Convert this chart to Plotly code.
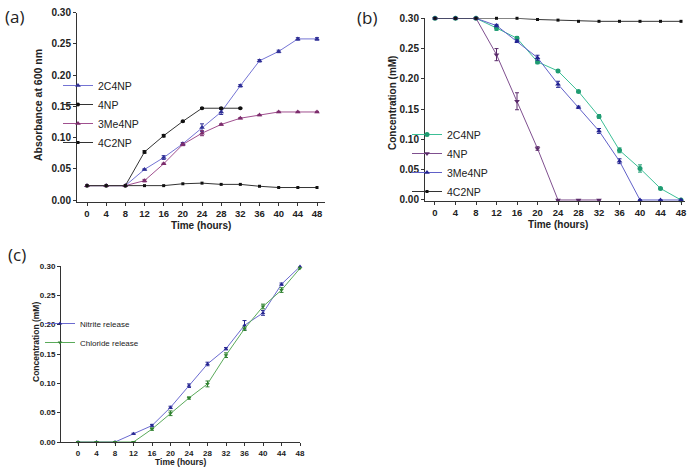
import plotly.graph_objects as go

W, H = 698, 470

# ---------------- data ----------------
hours = [0, 4, 8, 12, 16, 20, 24, 28, 32, 36, 40, 44, 48]
hours_4np_a = [0, 4, 8, 12, 16, 20, 24, 28, 32]
hours_4np_b = [0, 4, 8, 12, 16, 20, 24, 28, 32]
x_ticks = [0, 4, 8, 12, 16, 20, 24, 28, 32, 36, 40, 44, 48]
y_ticks = [0.00, 0.05, 0.10, 0.15, 0.20, 0.25, 0.30]

# Panel (a): absorbance at 600 nm
a_2c4np = [0.023, 0.023, 0.023, 0.049, 0.068, 0.090, 0.116, 0.141, 0.183, 0.223, 0.238, 0.258, 0.258]
a_2c4np_err = [0, 0, 0, 0.001, 0.003, 0.002, 0.006, 0.004, 0.002, 0.002, 0.002, 0.002, 0.002]
a_4np = [0.023, 0.023, 0.023, 0.077, 0.103, 0.126, 0.147, 0.147, 0.147]
a_4np_err = [0, 0, 0, 0.002, 0.002, 0.001, 0.001, 0.001, 0.001]
a_3me4np = [0.023, 0.023, 0.023, 0.031, 0.058, 0.089, 0.107, 0.121, 0.131, 0.136, 0.141, 0.141, 0.141]
a_3me4np_err = [0, 0, 0, 0.002, 0.001, 0.002, 0.004, 0.001, 0.001, 0.001, 0.001, 0.001, 0.001]
a_4c2np = [0.023, 0.023, 0.023, 0.023, 0.023, 0.026, 0.027, 0.025, 0.025, 0.022, 0.020, 0.020, 0.020]

# Panel (b): concentration (mM)
b_2c4np = [0.300, 0.300, 0.300, 0.284, 0.267, 0.228, 0.213, 0.179, 0.138, 0.082, 0.052, 0.019, 0.000]
b_2c4np_err = [0, 0, 0, 0.004, 0.003, 0.003, 0.002, 0.001, 0.003, 0.004, 0.006, 0.001, 0]
b_4np = [0.300, 0.300, 0.300, 0.240, 0.163, 0.085, 0.000, 0.000, 0.000]
b_4np_err = [0, 0, 0, 0.010, 0.014, 0.003, 0, 0, 0]
b_3me4np = [0.300, 0.300, 0.300, 0.288, 0.262, 0.235, 0.191, 0.153, 0.114, 0.064, 0.000, 0.000, 0.000]
b_3me4np_err = [0, 0, 0, 0.002, 0.002, 0.004, 0.005, 0.002, 0.004, 0.004, 0, 0, 0]
b_4c2np = [0.300, 0.300, 0.300, 0.300, 0.300, 0.298, 0.297, 0.295, 0.295, 0.295, 0.295, 0.295, 0.295]

# Panel (c): release (mM)
c_nitrite = [0.000, 0.000, 0.000, 0.014, 0.028, 0.059, 0.096, 0.133, 0.159, 0.199, 0.220, 0.269, 0.299]
c_nitrite_err = [0, 0, 0, 0.001, 0.002, 0.002, 0.003, 0.003, 0.002, 0.008, 0.004, 0.002, 0.002]
c_chloride = [0.000, 0.000, 0.000, 0.000, 0.022, 0.049, 0.075, 0.099, 0.148, 0.193, 0.231, 0.259, 0.296]
c_chloride_err = [0, 0, 0, 0, 0.002, 0.004, 0.002, 0.005, 0.004, 0.003, 0.004, 0.004, 0.002]

FONT = "Liberation Sans, Arial, sans-serif"

fig = go.Figure()


def add(x, y, err, name, line_col, mk_col, symbol, size, xa, ya, legend):
    kw = {}
    if err is not None:
        kw["error_y"] = dict(type="data", array=err, visible=True, color=mk_col,
                             thickness=1, width=2)
    fig.add_trace(go.Scatter(
        x=x, y=y, name=name, mode="lines+markers",
        line=dict(color=line_col, width=1),
        marker=dict(color=mk_col, symbol=symbol, size=size),
        xaxis=xa, yaxis=ya, legend=legend, cliponaxis=False, **kw))


# (a)
add(hours, a_2c4np, a_2c4np_err, "2C4NP", "#7474d4", "#2f2f96", "triangle-up", 5, "x", "y", "legend")
add(hours_4np_a, a_4np, a_4np_err, "4NP", "#333333", "#111111", "circle", 4, "x", "y", "legend")
add(hours, a_3me4np, a_3me4np_err, "3Me4NP", "#a0508f", "#7c2c6c", "triangle-up", 5, "x", "y", "legend")
add(hours, a_4c2np, None, "4C2NP", "#333333", "#111111", "square", 3, "x", "y", "legend")

# (b)
add(hours, b_2c4np, b_2c4np_err, "2C4NP", "#3cbf96", "#1f9c72", "circle", 5, "x2", "y2", "legend2")
add(hours_4np_b, b_4np, b_4np_err, "4NP", "#7f4f8f", "#5a2a6a", "triangle-down", 5, "x2", "y2", "legend2")
add(hours, b_3me4np, b_3me4np_err, "3Me4NP", "#6060c8", "#222290", "triangle-up", 5, "x2", "y2", "legend2")
add(hours, b_4c2np, None, "4C2NP", "#333333", "#111111", "square", 3, "x2", "y2", "legend2")

# (c)
add(hours, c_nitrite, c_nitrite_err, "Nitrite release", "#6a6ad0", "#262690", "triangle-up", 4, "x3", "y3", "legend3")
add(hours, c_chloride, c_chloride_err, "Chloride release", "#5aaa5a", "#2f802f", "triangle-down", 4, "x3", "y3", "legend3")


def px_x(p):
    return p / W


def px_y(p):
    return 1 - p / H


def xaxis(dom, rng, size, anchor):
    return dict(domain=[px_x(dom[0]), px_x(dom[1])], range=rng, tickvals=x_ticks,
                showline=True, linecolor="#333333", linewidth=1, ticks="outside",
                ticklen=3, tickcolor="#333333", showgrid=False, zeroline=False,
                anchor=anchor, automargin=False,
                tickfont=dict(family=FONT, size=size, color="#222222", weight="bold"))


def yaxis(dom, rng, size, anchor):
    return dict(domain=[px_y(dom[1]), px_y(dom[0])], range=rng, tickvals=y_ticks,
                tickformat=".2f", showline=True, linecolor="#333333", linewidth=1,
                ticks="outside", ticklen=3, tickcolor="#333333", showgrid=False,
                zeroline=False, anchor=anchor, automargin=False,
                tickfont=dict(family=FONT, size=size, color="#222222", weight="bold"))


fig.update_layout(
    width=W, height=H,
    margin=dict(l=0, r=0, t=0, b=0, pad=0, autoexpand=False),
    paper_bgcolor="white", plot_bgcolor="white",
    font=dict(family=FONT, color="#222222"),
    xaxis=xaxis((77, 325), [-2.09, 49.67], 9.5, "y"),
    yaxis=yaxis((12.7, 202), [-0.0032, 0.30], 10, "x"),
    xaxis2=xaxis((425, 685), [-1.95, 48.78], 9.5, "y2"),
    yaxis2=yaxis((18.3, 201), [-0.0017, 0.30], 10, "x2"),
    xaxis3=xaxis((61, 300), [-3.68, 48], 8, "y3"),
    yaxis3=yaxis((266, 442), [0, 0.30], 8, "x3"),
    legend=dict(x=px_x(58), y=px_y(71), xanchor="left", yanchor="top",
                itemwidth=30, bgcolor="rgba(0,0,0,0)",
                font=dict(family=FONT, size=10.5, color="#222222")),
    legend2=dict(x=px_x(407), y=px_y(120), xanchor="left", yanchor="top",
                 itemwidth=30, bgcolor="rgba(0,0,0,0)",
                 font=dict(family=FONT, size=10.5, color="#222222")),
    legend3=dict(x=px_x(40), y=px_y(309), xanchor="left", yanchor="top",
                 itemwidth=30, bgcolor="rgba(0,0,0,0)",
                 font=dict(family=FONT, size=8, color="#222222")),
)

ann = []


def text(x, y, s, size, bold=True, angle=0, family=FONT):
    ann.append(dict(x=px_x(x), y=px_y(y), xref="paper", yref="paper", text=s,
                    showarrow=False, textangle=angle, xanchor="center", yanchor="middle",
                    font=dict(family=family, size=size, color="#222222",
                              weight="bold" if bold else "normal")))


text(201, 225, "Time (hours)", 10)
text(38, 105, "Absorbance at 600 nm", 10.5, angle=-90)
text(558, 224, "Time (hours)", 10)
text(392, 103, "Concentration (mM)", 10, angle=-90)
text(180, 462, "Time (hours)", 8.5)
text(36, 342, "Concentration (mM)", 8.5, angle=-90)
text(14, 16, "(a)", 17, bold=False, family="Open Sans, sans-serif")
text(367, 17, "(b)", 17, bold=False, family="Open Sans, sans-serif")
text(17, 254, "(c)", 17, bold=False, family="Open Sans, sans-serif")
fig.update_layout(annotations=ann)

fig.write_html("out.html",
               config={"displayModeBar": False},
               post_script="document.body.style.margin='0';document.body.style.overflow='hidden';")
